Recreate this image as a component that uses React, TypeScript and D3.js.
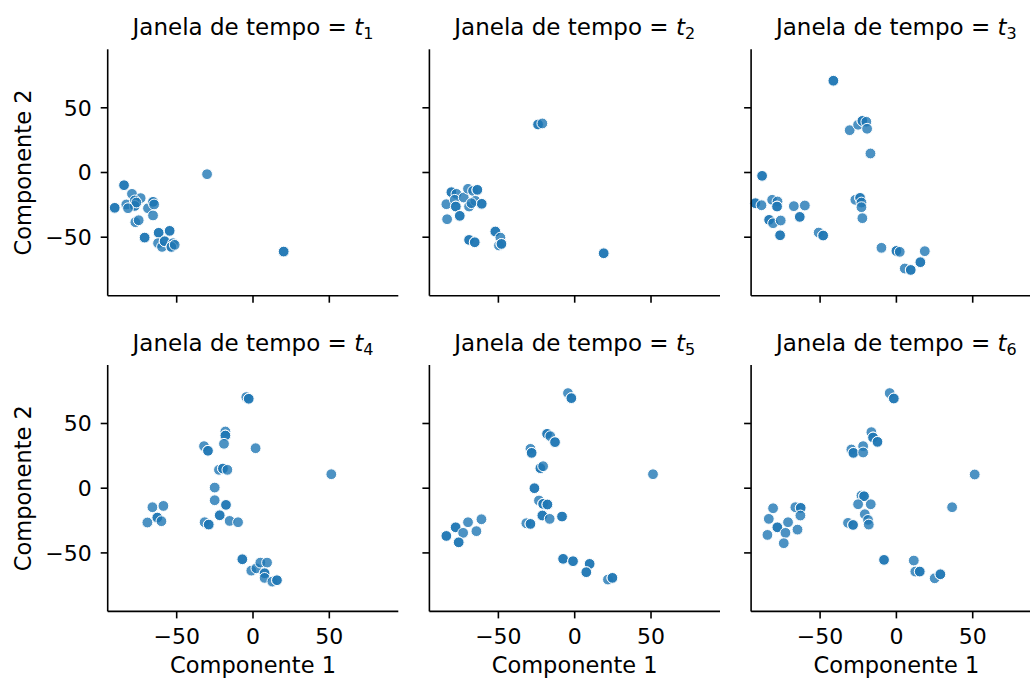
import React from "react"
import { scaleLinear } from "d3"

// [Componente 1, Componente 2, overlapping count]
const t1 = [
  [-84.5, -9.8, 2], [-90.6, -27.3, 2], [-79.3, -16.5, 1], [-73.6, -19.8, 1], [-83.0, -24.7, 1],
  [-77.5, -21.6, 1], [-77.5, -25.8, 2], [-76.4, -23.2, 1], [-81.9, -27.6, 1], [-68.8, -27.6, 1],
  [-65.5, -22.7, 2], [-64.8, -24.7, 1], [-65.5, -33.2, 1], [-77.1, -38.4, 1], [-74.9, -36.9, 1],
  [-71.0, -50.3, 2], [-61.8, -46.6, 2], [-54.6, -45.1, 2], [-62.2, -54.6, 1], [-59.6, -57.5, 1],
  [-57.9, -53.1, 2], [-52.4, -54.6, 1], [-53.5, -57.5, 2], [-51.3, -55.9, 1], [-30.1, -1.3, 1],
  [20.1, -61.1, 2],
]
const t2 = [
  [-24.0, 37.1, 2], [-21.2, 37.9, 1], [19.0, -62.4, 2], [-80.8, -15.2, 2], [-77.5, -16.5, 1],
  [-84.1, -24.5, 1], [-78.6, -21.1, 1], [-77.9, -26.3, 2], [-83.6, -36.1, 1], [-75.3, -33.5, 2],
  [-72.7, -19.3, 1], [-69.9, -12.6, 1], [-66.6, -14.2, 1], [-63.8, -13.4, 2], [-69.2, -26.3, 1],
  [-65.1, -21.9, 1], [-60.9, -24.2, 2], [-67.7, -23.7, 1], [-69.2, -52.1, 2], [-65.5, -53.9, 2],
  [-52.0, -45.6, 2], [-48.7, -50.3, 1], [-49.6, -56.4, 1], [-48.0, -55.2, 2],
]
const t3 = [
  [-41.3, 70.9, 2], [-30.6, 32.7, 1], [-25.1, 36.9, 1], [-22.3, 39.9, 2], [-19.7, 39.2, 1],
  [-19.2, 33.8, 1], [-17.0, 14.7, 1], [-88.0, -2.6, 2], [-92.4, -23.7, 2], [-88.4, -25.3, 1],
  [-81.4, -21.1, 1], [-77.9, -22.4, 1], [-78.2, -26.3, 2], [-83.4, -36.6, 2], [-80.8, -39.2, 1],
  [-75.8, -37.1, 1], [-76.2, -48.5, 2], [-67.2, -26.0, 1], [-60.0, -25.5, 1], [-63.3, -34.3, 2],
  [-50.9, -46.4, 1], [-48.0, -48.7, 2], [-26.9, -21.1, 1], [-23.8, -19.6, 2], [-22.9, -23.2, 1],
  [-22.9, -26.8, 1], [-22.3, -35.3, 1], [-9.8, -58.2, 1], [0.0, -60.6, 2], [2.2, -61.3, 1],
  [18.6, -60.8, 1], [15.7, -69.3, 2], [5.5, -74.2, 1], [9.4, -75.3, 2],
]
const t4 = [
  [-4.4, 70.4, 1], [-2.8, 69.1, 2], [-18.1, 43.8, 1], [-18.1, 40.7, 2], [-19.0, 34.3, 1],
  [-32.1, 32.5, 1], [-29.5, 28.9, 2], [1.7, 30.9, 1], [-22.3, 14.2, 1], [-19.7, 15.2, 2],
  [-16.8, 14.2, 1], [51.3, 10.8, 1], [-25.1, 0.5, 1], [-25.1, -9.3, 1], [-17.7, -12.9, 2],
  [-21.8, -20.9, 2], [-15.3, -25.3, 1], [-9.8, -26.3, 1], [-31.7, -26.3, 1], [-29.0, -28.1, 2],
  [-65.9, -14.7, 1], [-58.7, -13.7, 1], [-62.7, -22.7, 2], [-60.0, -25.5, 1], [-69.2, -26.5, 1],
  [-7.0, -54.9, 2], [-1.1, -63.7, 1], [2.2, -61.9, 1], [4.8, -57.5, 1], [9.2, -57.5, 1],
  [7.6, -65.7, 2], [7.6, -69.3, 1], [12.7, -72.2, 1], [15.7, -71.1, 2],
]
const t5 = [
  [-4.4, 73.5, 1], [-2.2, 69.6, 2], [-18.1, 42.0, 2], [-16.0, 40.2, 1], [-12.9, 35.6, 2],
  [-29.0, 30.4, 1], [-28.2, 27.3, 2], [-22.5, 15.5, 2], [-20.7, 17.0, 1], [51.3, 10.8, 1],
  [-26.4, 0.0, 2], [-23.4, -9.5, 1], [-20.7, -12.1, 2], [-17.9, -12.6, 2], [-21.2, -21.1, 2],
  [-16.4, -23.7, 1], [-8.3, -21.9, 2], [-31.7, -27.1, 1], [-29.0, -27.6, 2], [-84.1, -36.9, 2],
  [-78.0, -30.2, 2], [-73.1, -34.5, 1], [-76.0, -41.8, 2], [-69.9, -26.3, 1], [-64.4, -33.2, 1],
  [-61.1, -24.0, 1], [-7.6, -54.6, 2], [-1.1, -56.4, 2], [9.8, -58.5, 2], [7.6, -64.9, 2],
  [21.8, -70.6, 1], [24.7, -69.3, 2],
]
const t6 = [
  [-4.4, 73.5, 1], [-1.7, 69.3, 2], [-16.4, 43.3, 1], [-15.3, 39.2, 2], [-12.4, 35.8, 2],
  [-21.8, 32.5, 1], [-29.5, 29.9, 1], [-28.2, 27.3, 2], [-21.8, 27.6, 1], [51.3, 10.6, 1],
  [36.5, -14.7, 1], [-22.9, -5.7, 1], [-21.2, -6.2, 2], [-25.1, -12.4, 1], [-16.8, -12.4, 1],
  [-20.7, -20.1, 1], [-18.6, -24.5, 1], [-18.1, -28.1, 1], [-31.7, -26.8, 1], [-28.4, -28.4, 2],
  [-80.8, -15.5, 1], [-83.6, -23.7, 1], [-78.0, -30.2, 2], [-71.0, -26.3, 1], [-72.7, -34.5, 1],
  [-84.5, -36.1, 1], [-73.8, -42.5, 1], [-64.8, -32.0, 1], [-66.2, -14.7, 1], [-62.7, -15.2, 2],
  [-62.9, -21.1, 1], [-8.1, -55.4, 2], [11.4, -55.9, 1], [12.4, -64.4, 1], [15.3, -64.4, 2],
  [25.1, -69.6, 1], [28.8, -66.5, 2],
]

const series = [t1, t2, t3, t4, t5, t6]
const windowLabels = ["1", "2", "3", "4", "5", "6"]
const tickValues = [-50, 0, 50]
const domain = [-95.2, 95.2]

const W = 1030
const H = 679
const left = 107.7
const top = 49.3
const panelW = 290.6
const panelH = 246.4
const gapX = 31.1
const gapY = 69.3
const color = "#1f77b4"
const font = "DejaVu Sans, sans-serif"

function fmt(t) {
  return t < 0 ? "\u2212" + Math.abs(t) : String(t)
}

function Panel({ data, label, col, row }) {
  const x0 = left + col * (panelW + gapX)
  const y0 = top + row * (panelH + gapY)
  const x = scaleLinear().domain(domain).range([0, panelW])
  const y = scaleLinear().domain(domain).range([panelH, 0])
  const points = []
  data.forEach((d, i) => {
    for (let k = 0; k < d[2]; k++) points.push({ x: d[0], y: d[1], key: i + "-" + k })
  })
  return (
    <g transform={"translate(" + x0 + "," + y0 + ")"}>
      <text x={panelW / 2} y={-14} textAnchor="middle" fontSize={23} fontFamily={font}>
        Janela de tempo = <tspan fontStyle="italic">t</tspan>
        <tspan dy={4} fontSize={16}>{label}</tspan>
      </text>
      {points.map(p => (
        <circle
          key={p.key}
          cx={x(p.x)}
          cy={y(p.y)}
          r={5.4}
          fill={color}
          fillOpacity={0.8}
          stroke="#fff"
          strokeWidth={1}
        />
      ))}
      <line x1={0} x2={0} y1={0} y2={panelH} stroke="#000" strokeWidth={1.6} />
      <line x1={0} x2={panelW} y1={panelH} y2={panelH} stroke="#000" strokeWidth={1.6} />
      {tickValues.map(t => (
        <g key={"x" + t} transform={"translate(" + x(t) + "," + panelH + ")"}>
          <line y1={0} y2={7} stroke="#000" strokeWidth={1.6} />
          {row === 1 && (
            <text y={33} textAnchor="middle" fontSize={22} fontFamily={font}>
              {fmt(t)}
            </text>
          )}
        </g>
      ))}
      {tickValues.map(t => (
        <g key={"y" + t} transform={"translate(0," + y(t) + ")"}>
          <line x1={0} x2={-7} stroke="#000" strokeWidth={1.6} />
          {col === 0 && (
            <text x={-16} dy="0.36em" textAnchor="end" fontSize={22} fontFamily={font}>
              {fmt(t)}
            </text>
          )}
        </g>
      ))}
      {row === 1 && (
        <text x={panelW / 2} y={panelH + 62} textAnchor="middle" fontSize={22.5} fontFamily={font}>
          Componente 1
        </text>
      )}
      {col === 0 && (
        <text
          transform={"translate(-76.5," + panelH / 2 + ") rotate(-90)"}
          textAnchor="middle"
          fontSize={22.5}
          fontFamily={font}
        >
          Componente 2
        </text>
      )}
    </g>
  )
}

export default function App() {
  return (
    <svg
      width={W}
      height={H}
      style={{ position: "absolute", left: 0, top: 0, background: "#fff" }}
    >
      <rect width={W} height={H} fill="#fff" />
      {series.map((data, i) => (
        <Panel key={i} data={data} label={windowLabels[i]} col={i % 3} row={Math.floor(i / 3)} />
      ))}
    </svg>
  )
}
